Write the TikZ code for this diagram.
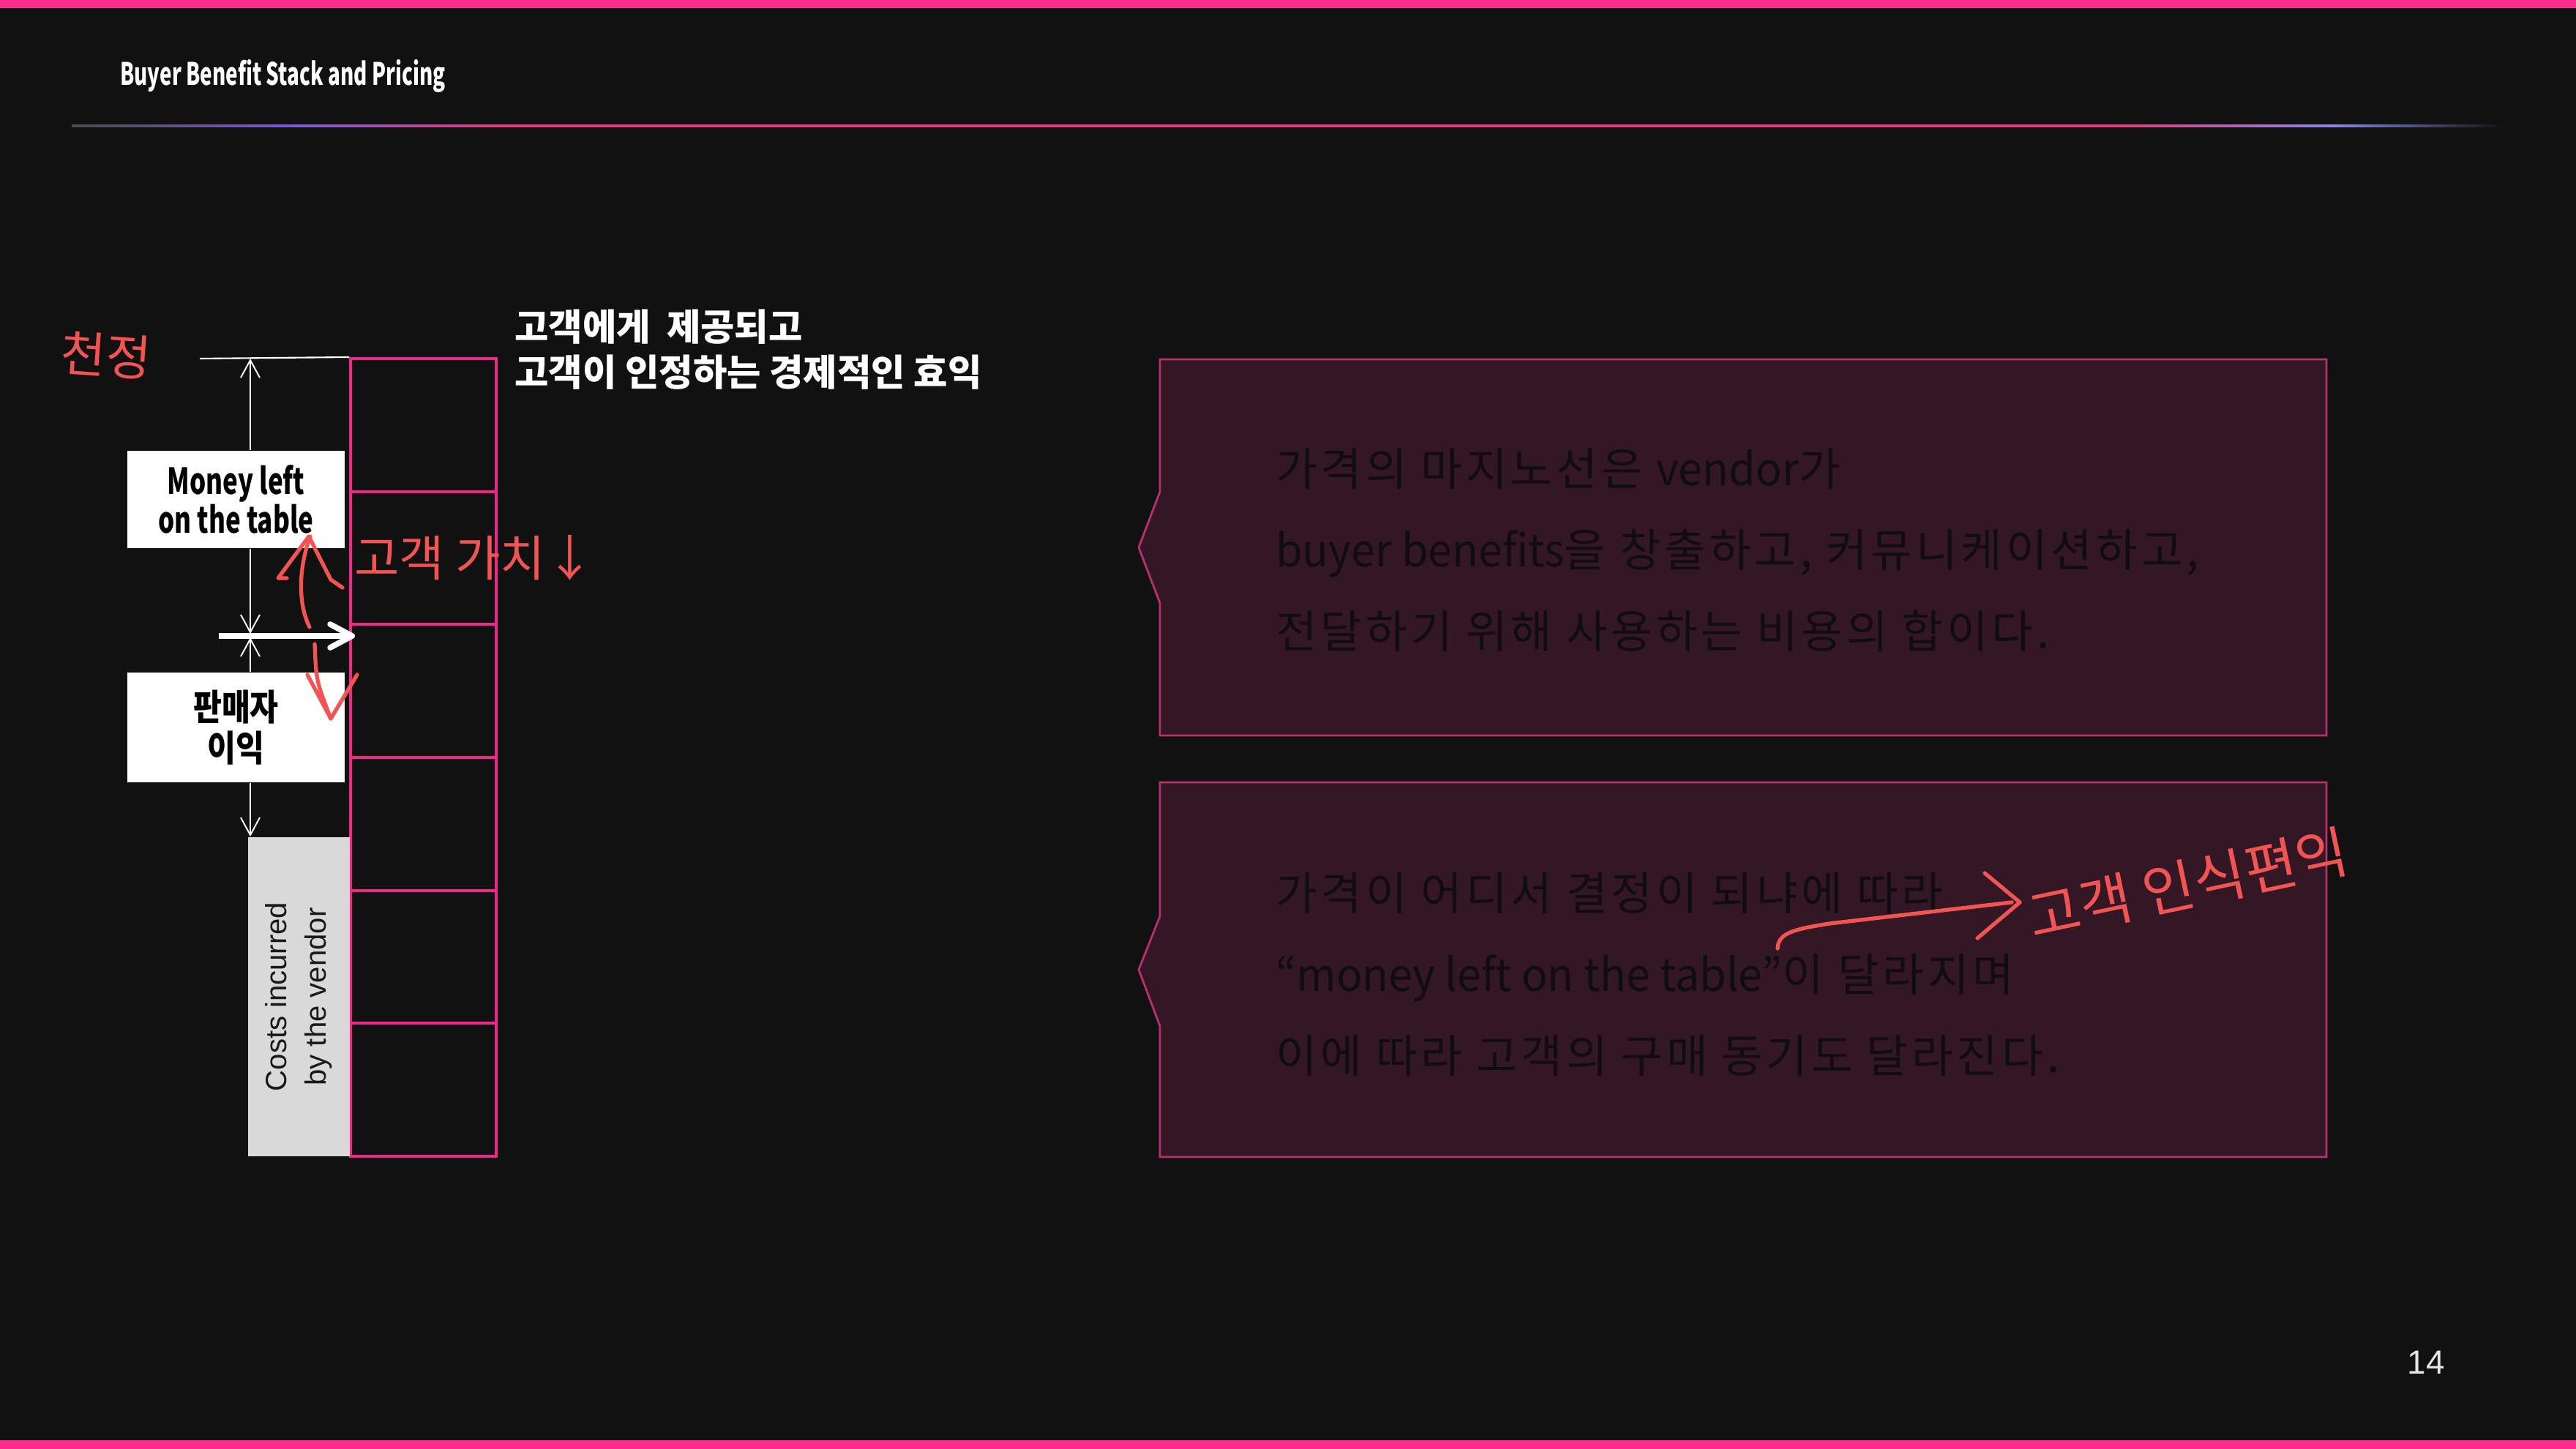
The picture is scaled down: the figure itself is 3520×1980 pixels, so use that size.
\documentclass[tikz,border=0pt]{standalone}
\usepackage{fontspec}
\usepackage{tikz}
\usetikzlibrary{arrows.meta,calc,positioning}
\setmainfont{Liberation Sans}
\newfontfamily\krfont{Noto Sans CJK KR}
\newfontfamily\krtitle{Noto Sans CJK KR}[FakeStretch=0.66]
\newfontfamily\krcond{Noto Sans CJK KR}[FakeStretch=0.71]
\newfontfamily\krlabel{Noto Sans CJK KR}[FakeStretch=0.86]
\newfontfamily\notekr{Noto Sans CJK KR}[LetterSpace=8]
\newfontfamily\notelat{Noto Sans CJK KR}[FakeStretch=0.96]

\definecolor{bgc}{HTML}{111111}
\definecolor{barpink}{HTML}{FF2D8F}
\definecolor{cellpink}{HTML}{F0288A}
\definecolor{boxfill}{HTML}{331724}
\definecolor{boxline}{HTML}{B8306F}
\definecolor{notetext}{HTML}{100C0F}
\definecolor{handred}{HTML}{F25454}
\definecolor{costgray}{HTML}{D9D9D9}
\definecolor{pagegray}{HTML}{E6E6E6}
\definecolor{rulegray}{HTML}{4A4A4A}
\definecolor{rulepurple}{HTML}{7B5AD6}
\definecolor{rulepink}{HTML}{E23C7C}
\definecolor{ruleblue}{HTML}{8A86E8}

% rule under the title (path covers 25bp..75bp)
\pgfdeclarehorizontalshading{rulefade}{100bp}{color(0bp)=(rulegray); color(25bp)=(rulegray); color(29.5bp)=(rulepurple); color(34bp)=(rulepink); color(67bp)=(rulepink); color(71.5bp)=(ruleblue); color(75bp)=(bgc); color(100bp)=(bgc)}

\newcommand{\lat}[1]{{\notelat #1}}

\begin{document}
\begin{tikzpicture}[x=0.01cm,y=-0.01cm,
  >={Straight Barb[length=2.4mm,width=2.6mm]},
  dim/.style={draw=white,line width=0.55pt},
  cell/.style={draw=cellpink,line width=1.1pt,minimum width=1.99cm,minimum height=1.817cm,inner sep=0pt},
  labelbox/.style={fill=white,text=black,align=center,inner sep=0pt,font=\krcond\bfseries\fontsize{14}{15}\selectfont},
  notebox/.style={draw=boxline,fill=boxfill,line width=0.8pt},
  noteline/.style={anchor=base west,text=notetext,font=\notekr\fontsize{17.5}{20}\selectfont},
  headline/.style={anchor=base west,text=white,font=\krfont\bfseries\fontsize{14.35}{16}\selectfont},
  hand/.style={draw=handred,line width=1.5pt,line cap=round,line join=round},
  handtext/.style={text=handred,font=\krfont\fontsize{19}{22}\selectfont}]

% page
\fill[bgc] (0,0) rectangle (3520,1980);
\useasboundingbox (0,0) rectangle (3520,1980);
\fill[barpink] (0,0) rectangle (3520,11);
\fill[barpink] (0,1968) rectangle (3520,1980);

% title
\node[anchor=base west,text=white,font=\krtitle\bfseries\fontsize{12}{14}\selectfont] (title) at (152,117) {Buyer Benefit Stack and Pricing};
\shade[shading=rulefade] (98,171) rectangle (3421,174);

% benefit stack
\foreach \i in {1,...,6}
  \node[cell] (cell\i) at (578.5,{490+181.67*(\i-0.5)}) {};
\coordinate (ceil) at (273,490);
\draw[white,line width=0.6pt] (ceil) -- (cell1.north west);

\node[labelbox,minimum width=2.97cm,minimum height=1.33cm] (money) at (322.5,682.5) {Money left\\on the table};
\node[labelbox,minimum width=2.97cm,minimum height=1.5cm,font=\krlabel\bfseries\fontsize{14}{16}\selectfont] (profit) at (322.5,994) {판매자\\이익};
\node[fill=costgray,text=black!90,rotate=90,align=center,inner sep=0pt,minimum width=4.36cm,minimum height=1.39cm,font=\fontsize{11.4}{15.4}\selectfont] (costs) at (408.5,1362) {Costs incurred\\by the vendor};

% dimension arrows
\coordinate (axtop) at (342,490);
\coordinate (tipa) at (342,866);
\coordinate (tipb) at (342,871);
\draw[dim,<-] (axtop) -- (axtop |- money.north);
\draw[dim,->] (axtop |- money.south) -- (tipa);
\draw[dim,<-] (tipb) -- (axtop |- profit.north);
\draw[dim,->] (axtop |- profit.south) -- (axtop |- costs.east);

% price arrow
\coordinate (pricefrom) at (299,869);
\coordinate (priceto) at (485,869);
\draw[white,line width=2.2pt,-{Straight Barb[round,length=3mm,width=3.2mm]}] (pricefrom) -- (priceto);

\node[headline] (head1) at (691,466) {고객에게\hspace{0.22cm}제공되고};
\node[headline] (head2) at (691,528) {고객이 인정하는 경제적인 효익};

% note boxes
\draw[notebox] (1585,491) -- (3179,491) -- (3179,1005) -- (1585,1005) -- (1585,824) -- (1556,748) -- (1585,672) -- cycle;
\node[noteline] (n1a) at (1731,664) {가격의 마지노선은 \lat{vendor}가};
\node[noteline] (n1b) at (1731,775) {\lat{buyer benefits}을 창출하고, 커뮤니케이션하고,};
\node[noteline] (n1c) at (1731,886) {전달하기 위해 사용하는 비용의 합이다.};

\draw[notebox] (1585,1069) -- (3179,1069) -- (3179,1581) -- (1585,1581) -- (1585,1402) -- (1556,1325) -- (1585,1252) -- cycle;
\node[noteline] (n2a) at (1731,1244) {가격이 어디서 결정이 되냐에 따라};
\node[noteline] (n2b) at (1731,1355) {\lat{“money left on the table”}이 달라지며};
\node[noteline] (n2c) at (1731,1466) {이에 따라 고객의 구매 동기도 달라진다.};

\node[text=pagegray,font=\fontsize{13}{15}\selectfont] (pagenum) at (3315,1862) {14};

% hand notes
\node[handtext,rotate=-4] (ceilnote) at (145,486) {천정};
\node[handtext] (valnote) at (648,762) {고객 가치↓};
\draw[hand] (423,857) .. controls (405,820) and (410,770) .. (424,733);
\draw[hand] (392,790) -- (380,790) -- (422,733) -- (452,792) -- (468,803);
\draw[hand] (430,880) .. controls (432,930) .. (452,982);
\draw[hand] (420,922) -- (452,982) -- (488,922);
\draw[hand] (2429,1296) .. controls (2430,1275) and (2450,1270) .. (2500,1262) -- (2749,1233);
\draw[hand] (2712,1193) -- (2760,1233) -- (2702,1282);
\node[handtext,rotate=12,font=\krfont\fontsize{22}{24}\selectfont] (benefitnote) at (2990,1208) {고객 인식편익};
\end{tikzpicture}
\end{document}
